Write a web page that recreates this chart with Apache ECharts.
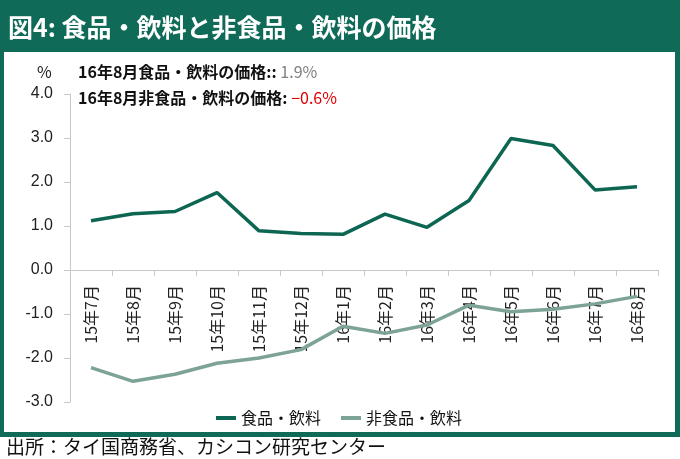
<!DOCTYPE html>
<html><head><meta charset="utf-8">
<script src="https://cdn.jsdelivr.net/npm/echarts@6/dist/echarts.min.js"></script>
<style>html,body{margin:0;padding:0;background:#fff}#c{width:680px;height:459px}</style>
</head><body><div id="c"></div>
<script>
const categories = ['15年7月','15年8月','15年9月','15年10月','15年11月','15年12月','16年1月','16年2月','16年3月','16年4月','16年5月','16年6月','16年7月','16年8月'];
const foodValues = [1.12, 1.28, 1.33, 1.76, 0.89, 0.83, 0.81, 1.27, 0.97, 1.58, 2.99, 2.83, 1.82, 1.89];
const nonFoodValues = [-2.22, -2.53, -2.37, -2.12, -2.0, -1.81, -1.28, -1.44, -1.25, -0.8, -0.95, -0.89, -0.77, -0.6];
const yTicks = { min: -3, max: 4, interval: 1 };
const seriesNames = ['食品・飲料', '非食品・飲料'];

const FONT = '"Noto Sans CJK JP", "Noto Sans", sans-serif';
const GREEN = '#0f6a57';
const GRID = { left: 70, right: 22, top: 94, bottom: 57 };
const plotH = 459 - GRID.top - GRID.bottom;
const zeroOffset = plotH * (0 - yTicks.min) / (yTicks.max - yTicks.min);

const chart = echarts.init(document.getElementById('c'), null, { renderer: 'canvas' });
chart.setOption({
  backgroundColor: '#ffffff',
  animation: false,
  textStyle: { fontFamily: FONT },
  graphic: [
    { type: 'rect', z: -10, shape: { x: 0, y: 0, width: 680, height: 437 }, style: { fill: GREEN } },
    { type: 'rect', z: -9, shape: { x: 4, y: 52, width: 671, height: 380 }, style: { fill: '#ffffff' } },
    { type: 'text', left: 8, top: 15, style: { text: '図4: 食品・飲料と非食品・飲料の価格', fill: '#ffffff', font: 'bold 25px ' + FONT } },
    { type: 'text', left: 6, top: 437, style: { text: '出所：タイ国商務省、カシコン研究センター', fill: '#111111', font: '19px ' + FONT } },
    { type: 'text', left: 37, top: 64, style: { text: '%', fill: '#222', font: '16px ' + FONT } },
    { type: 'text', left: 78, top: 64, style: {
        rich: {
          b: { font: 'bold 16px ' + FONT, fill: '#111' },
          g: { font: '16px ' + FONT, fill: '#7f7f7f' }
        },
        text: '{b|16年8月食品・飲料の価格:: }{g|1.9%}'
    } },
    { type: 'text', left: 78, top: 90, style: {
        rich: {
          b: { font: 'bold 16px ' + FONT, fill: '#111' },
          r: { font: '16px ' + FONT, fill: '#e00000' }
        },
        text: '{b|16年8月非食品・飲料の価格: }{r|−0.6%}'
    } }
  ],
  legend: {
    left: 211, top: 405,
    icon: 'rect', itemWidth: 20, itemHeight: 4, itemGap: 20,
    textStyle: { fontSize: 16, color: '#111', fontFamily: FONT },
    data: seriesNames
  },
  grid: Object.assign({ containLabel: false, outerBoundsMode: 'none' }, GRID),
  xAxis: {
    type: 'category', data: categories, boundaryGap: true,
    position: 'bottom', offset: -zeroOffset,
    axisLine: { onZero: false, lineStyle: { color: '#c8c8c8', width: 1 } },
    axisTick: { show: true, length: 6, inside: false, lineStyle: { color: '#c8c8c8' } },
    axisLabel: { rotate: 90, margin: 15, fontSize: 16, color: '#222', fontFamily: FONT, interval: 0 }
  },
  yAxis: {
    type: 'value', min: yTicks.min, max: yTicks.max, interval: yTicks.interval,
    splitLine: { show: false },
    axisLine: { show: true, lineStyle: { color: '#c8c8c8' } },
    axisTick: { show: true, length: 6, lineStyle: { color: '#c8c8c8' } },
    axisLabel: { margin: 17, fontSize: 16, color: '#222', fontFamily: 'Arial, "Liberation Sans", sans-serif', formatter: v => v.toFixed(1) }
  },
  series: [
    { name: seriesNames[0], type: 'line', data: foodValues, showSymbol: false, symbol: 'none',
      lineStyle: { color: '#0d6651', width: 3.5 }, itemStyle: { color: '#0d6651' } },
    { name: seriesNames[1], type: 'line', data: nonFoodValues, showSymbol: false, symbol: 'none',
      lineStyle: { color: '#7ca394', width: 3.5 }, itemStyle: { color: '#7ca394' } }
  ]
});
</script></body></html>
